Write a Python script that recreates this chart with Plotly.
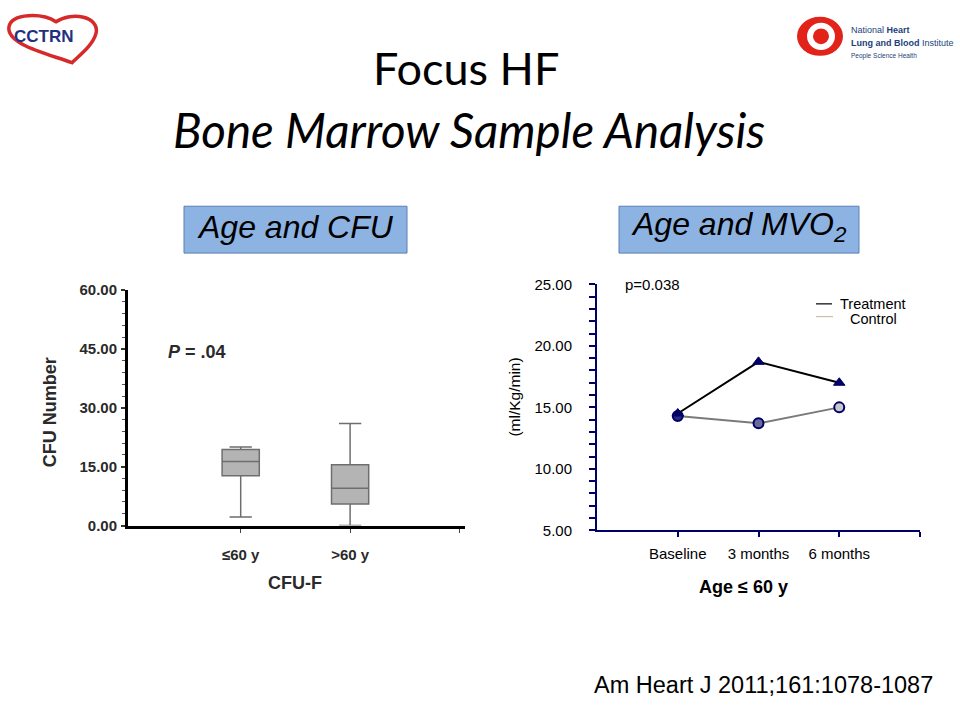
import plotly.graph_objects as go

W, H = 960, 720

# ---- data: left (box plot) ----
cfu_groups = ["≤60 y", ">60 y"]
cfu_lower = [2.2, 0.0]
cfu_q1 = [12.7, 5.5]
cfu_median = [16.3, 9.5]
cfu_q3 = [19.4, 15.5]
cfu_upper = [20.0, 26.0]

# ---- data: right (line chart) ----
timepoints = ["Baseline", "3 months", "6 months"]
treatment = [14.5, 18.7, 17.0]
control = [14.3, 13.7, 15.0]

def px(x):
    return x / W

def py(y):
    return 1 - y / H

ARIAL = "Liberation Sans, Arial, sans-serif"
TITLEF = "Lato, Open Sans, sans-serif"
NAVY = "#000066"

fig = go.Figure()

# left box plots
for i, g in enumerate(cfu_groups):
    fig.add_trace(go.Box(
        x=[i], q1=[cfu_q1[i]], median=[cfu_median[i]], q3=[cfu_q3[i]],
        lowerfence=[cfu_lower[i]], upperfence=[cfu_upper[i]],
        width=0.34, whiskerwidth=0.6,
        fillcolor="#b4b4b4", line=dict(color="#6e6e6e", width=1.5),
        xaxis="x", yaxis="y", showlegend=False, name=g, hoverinfo="skip"))

# right lines
xi = list(range(len(timepoints)))
fig.add_trace(go.Scatter(
    x=xi, y=control, mode="lines+markers", xaxis="x2", yaxis="y2",
    line=dict(color="#7a7a7a", width=2),
    marker=dict(symbol="circle", size=10, color=["#2a2a80", "#6a6a98", "#c8c8c8"],
                line=dict(color=NAVY, width=2)),
    showlegend=False, name="Control"))
fig.add_trace(go.Scatter(
    x=xi, y=treatment, mode="lines+markers", xaxis="x2", yaxis="y2",
    line=dict(color="#000000", width=2),
    marker=dict(symbol="triangle-up", size=10, color=NAVY, line=dict(color=NAVY, width=1)),
    showlegend=False, name="Treatment"))

fig.update_layout(
    width=W, height=H, margin=dict(l=0, r=0, t=0, b=0),
    paper_bgcolor="white", plot_bgcolor="white",
    xaxis=dict(domain=[px(128), px(465)], range=[-1.03, 2.05],
               tickvals=[0, 1, 2], ticktext=[cfu_groups[0], cfu_groups[1], ""],
               showline=True, linecolor="#000000", linewidth=3,
               ticks="outside", ticklen=4, tickcolor="#444", tickwidth=1,
               showgrid=False, zeroline=False,
               tickfont=dict(family=ARIAL, size=15, color="#2a2a2a", weight="bold"),
               ticklabelstandoff=9),
    yaxis=dict(domain=[py(529), py(288)], range=[0, 60], tickvals=[0, 15, 30, 45, 60],
               tickformat=".2f", showline=True, linecolor="#000000", linewidth=3,
               ticks="outside", ticklen=4, tickcolor="#333", tickwidth=2,
               minor=dict(dtick=3, ticks="outside", ticklen=3, tickcolor="#555", tickwidth=1),
               showgrid=False, zeroline=False,
               tickfont=dict(family=ARIAL, size=15, color="#2a2a2a", weight="bold"),
               ticklabelstandoff=1),
    xaxis2=dict(domain=[px(597), px(920)], range=[-1, 3],
                tickvals=[0, 1, 2, 3], ticktext=timepoints + [""],
                showline=True, linecolor=NAVY, linewidth=2,
                ticks="outside", ticklen=5, tickcolor=NAVY, tickwidth=2,
                showgrid=False, zeroline=False, anchor="y2",
                tickfont=dict(family=ARIAL, size=15, color="#000"), ticklabelstandoff=4),
    yaxis2=dict(domain=[py(534), py(282)], range=[5, 25], dtick=5, tickformat=".2f",
                showline=True, linecolor=NAVY, linewidth=2, anchor="x2",
                ticks="outside", ticklen=6, tickcolor=NAVY, tickwidth=2,
                minor=dict(dtick=1, ticks="outside", ticklen=6, tickcolor=NAVY, tickwidth=2),
                showgrid=False, zeroline=False,
                tickfont=dict(family=ARIAL, size=15, color="#000"), ticklabelstandoff=14),
)

shapes = []
annotations = []

def ann(text, x, y, size, family=ARIAL, color="#000", xanchor="center", yanchor="middle", **kw):
    annotations.append(dict(text=text, x=px(x), y=py(y), xref="paper", yref="paper",
                            xanchor=xanchor, yanchor=yanchor, showarrow=False,
                            font=dict(family=family, size=size, color=color), **kw))

# titles
ann("Focus HF", 466, 60, 45, family=TITLEF, color="#000")
ann("<i>Bone Marrow Sample Analysis</i>", 469, 123, 47.5, family=TITLEF, color="#000")

# blue label boxes
for (x0, x1, txt) in [(184, 407, "<i>Age and CFU</i>"), (619, 859, "<i>Age and MVO<sub>2</sub></i>")]:
    shapes.append(dict(type="rect", xref="paper", yref="paper", x0=px(x0), x1=px(x1),
                       y0=py(250), y1=py(202), fillcolor="#8db3e2",
                       line=dict(color="#5b7fb3", width=1), layer="below"))
    ann(txt, (x0 + x1) / 2, 223, 32, color="#000")

# left chart texts
ann("<b>CFU Number</b>", 50, 413, 18, color="#2a2a2a", textangle=-90)
ann("<b>CFU-F</b>", 295, 588, 18, color="#2a2a2a")
ann("<b><i>P</i> = .04</b>", 166, 351, 18, color="#2a2a2a", xanchor="left")

# right chart texts
ann("(ml/Kg/min)", 515, 398, 15.5, textangle=-90)
ann("<b>Age ≤ 60 y</b>", 743, 592, 18)
ann("p=0.038", 623, 282, 15, xanchor="left")
ann("Treatment", 838, 302, 14.5, xanchor="left")
ann("Control", 848, 318, 14.5, xanchor="left")
shapes.append(dict(type="line", xref="paper", yref="paper", x0=px(816), x1=px(832),
                   y0=py(302), y1=py(302), line=dict(color="#000", width=1.2)))
shapes.append(dict(type="line", xref="paper", yref="paper", x0=px(816), x1=px(833),
                   y0=py(315), y1=py(315), line=dict(color="#c8bfa8", width=1.2)))

# citation
ann("Am Heart J 2011;161:1078-1087", 763, 692, 23.5)

# CCTRN logo (heart outline + text)
def path(pts):
    s = "M %f,%f" % (px(pts[0][0]), py(pts[0][1]))
    i = 1
    while i < len(pts):
        a, b, c = pts[i], pts[i + 1], pts[i + 2]
        s += " C %f,%f %f,%f %f,%f" % (px(a[0]), py(a[1]), px(b[0]), py(b[1]), px(c[0]), py(c[1]))
        i += 3
    return s + " Z"

heart = [(72, 55), (45, 45), (6, 36), (9, 18), (12, 4), (42, 4), (56, 13),
         (72, 2), (100, 8), (96, 25), (93, 37), (80, 47), (72, 55)]
shapes.append(dict(type="path", xref="paper", yref="paper", path=path(heart),
                   line=dict(color="#d62a2a", width=3.5), fillcolor="rgba(0,0,0,0)"))
ann("<b>CCTRN</b>", 44, 28, 17, family="Liberation Sans Narrow, Liberation Sans", color="#24307f")

# NHLBI logo
shapes.append(dict(type="circle", xref="paper", yref="paper", x0=px(797), x1=px(843),
                   y0=py(48), y1=py(8), fillcolor="#e2231a", line=dict(width=0)))
shapes.append(dict(type="circle", xref="paper", yref="paper", x0=px(807), x1=px(835),
                   y0=py(42), y1=py(14), fillcolor="white", line=dict(width=0)))
shapes.append(dict(type="circle", xref="paper", yref="paper", x0=px(813), x1=px(829),
                   y0=py(36), y1=py(20), fillcolor="#e2231a", line=dict(width=0)))
NHB = "#1c3f7a"
ann("National <b>Heart</b>", 849, 22, 9, color=NHB, xanchor="left")
ann("<b>Lung and Blood</b> Institute", 849, 35, 9, color=NHB, xanchor="left")
ann("People Science Health", 849, 48, 6.5, color=NHB, xanchor="left")

fig.update_layout(shapes=shapes, annotations=annotations)
fig.write_html("out.html", config={"displayModeBar": False},
               post_script="document.body.style.margin='0';document.body.style.padding='0';")
